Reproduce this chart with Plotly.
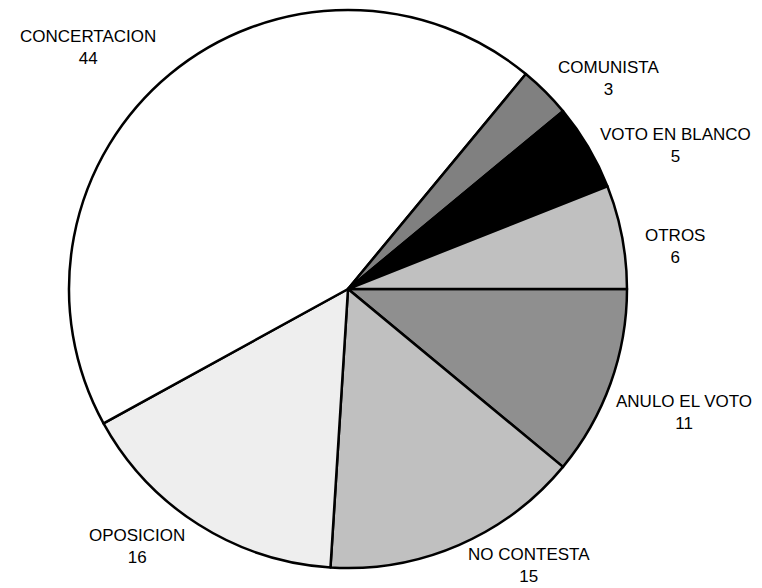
import plotly.graph_objects as go

labels = ["ANULO EL VOTO", "NO CONTESTA", "OPOSICION", "CONCERTACION", "COMUNISTA", "VOTO EN BLANCO", "OTROS"]
values = [11, 15, 16, 44, 3, 5, 6]
colors = ["#8f8f8f", "#c0c0c0", "#eeeeee", "#ffffff", "#808080", "#000000", "#c0c0c0"]

W, H = 762, 588
OFF = 8  # default body margin of the html page
# pie centre / radius in window pixels
cx, cy, R = 348 - OFF, 289 - OFF, 279

# label block centres (window pixels)
label_pos = [(684, 412), (529, 565), (137, 546), (88, 47), (608, 78), (675, 145), (675, 247)]
FONT = dict(family="Liberation Sans, Arial, sans-serif", size=17, color="#000000")

fig = go.Figure(go.Pie(
    labels=labels,
    values=values,
    sort=False,
    direction="clockwise",
    rotation=90,
    marker=dict(colors=colors, line=dict(color="#000000", width=2.5)),
    textinfo="none",
    showlegend=False,
    hoverinfo="label+value",
    domain=dict(x=[(cx - R) / W, (cx + R) / W], y=[1 - (cy + R) / H, 1 - (cy - R) / H]),
))

annotations = []
for lab, val, (px, py) in zip(labels, values, label_pos):
    annotations.append(dict(
        text=f"{lab}<br>{val}", showarrow=False, xref="paper", yref="paper",
        x=(px - OFF) / W, y=1 - (py - OFF) / H,
        xanchor="center", yanchor="middle", align="center", font=FONT,
        borderpad=0,
    ))

fig.update_layout(
    width=W, height=H,
    margin=dict(l=0, r=0, t=0, b=0),
    paper_bgcolor="#ffffff",
    plot_bgcolor="#ffffff",
    annotations=annotations,
)

fig.write_html("out.html")
